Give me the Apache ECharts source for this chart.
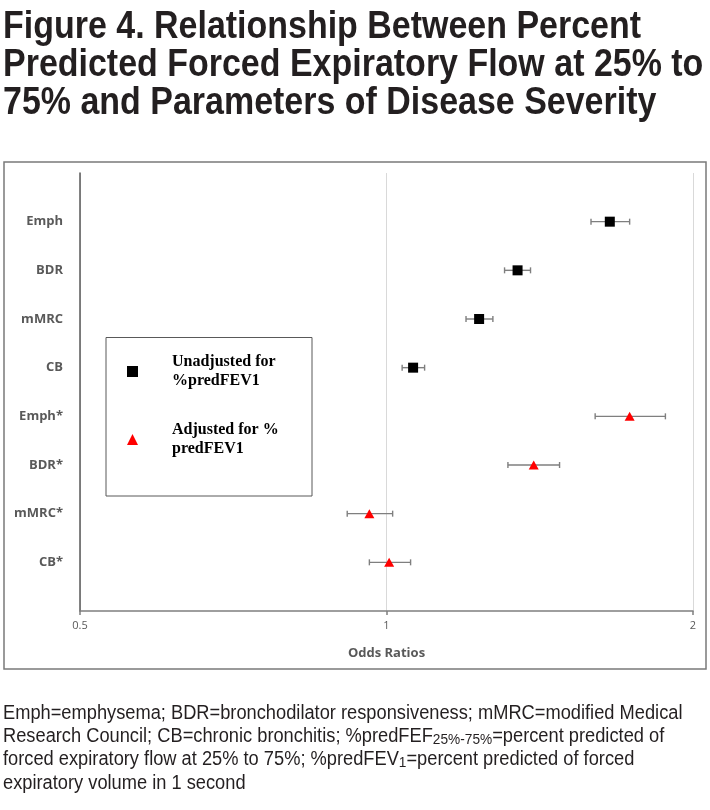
<!DOCTYPE html>
<html>
<head>
<meta charset="utf-8">
<script src="https://cdn.jsdelivr.net/npm/echarts@6/dist/echarts.min.js"></script>
<style>
html,body{margin:0;padding:0;background:#fff;}
#chart{width:710px;height:810px;}
</style>
</head>
<body>
<div id="chart"></div>
<script>
// ---- data ----
var categories = ['Emph', 'BDR', 'mMRC', 'CB', 'Emph*', 'BDR*', 'mMRC*', 'CB*'];
var unadjCats = ['Emph', 'BDR', 'mMRC', 'CB'];
var unadjOR = [1.657, 1.345, 1.233, 1.062];
var unadjLo = [1.588, 1.306, 1.197, 1.036];
var unadjHi = [1.733, 1.385, 1.272, 1.090];
var adjCats = ['Emph*', 'BDR*', 'mMRC*', 'CB*'];
var adjOR = [1.733, 1.395, 0.962, 1.006];
var adjLo = [1.603, 1.316, 0.915, 0.962];
var adjHi = [1.879, 1.479, 1.014, 1.056];
var xTicks = [0.5, 1, 2];

var titleText = 'Figure 4. Relationship Between Percent\nPredicted Forced Expiratory Flow at 25% to\n75% and Parameters of Disease Severity';
var captionText = 'Emph=emphysema; BDR=bronchodilator responsiveness; mMRC=modified Medical\n' +
  'Research Council; CB=chronic bronchitis; %predFEF{sub|25%-75%}=percent predicted of\n' +
  'forced expiratory flow at 25% to 75%; %predFEV{sub|1}=percent predicted of forced\n' +
  'expiratory volume in 1 second';
var legendNames = ['Unadjusted for\n%predFEV1', 'Adjusted for %\npredFEV1'];

// y position of each category (top = highest)
function yPos(name) { return categories.length - categories.indexOf(name); }

function pts(cats, vals) {
  return cats.map(function (c, i) { return [vals[i], yPos(c)]; });
}
function bars(cats, lo, hi) {
  return cats.map(function (c, i) { return [lo[i], hi[i], yPos(c)]; });
}

function errRender(params, api) {
  var y = api.value(2);
  var a = api.coord([api.value(0), y]);
  var b = api.coord([api.value(1), y]);
  var h = 3;
  var st = { stroke: '#7f7f7f', lineWidth: 1.4 };
  return {
    type: 'group',
    children: [
      { type: 'line', shape: { x1: a[0], y1: a[1], x2: b[0], y2: b[1] }, style: st },
      { type: 'line', shape: { x1: a[0], y1: a[1] - h, x2: a[0], y2: a[1] + h }, style: st },
      { type: 'line', shape: { x1: b[0], y1: b[1] - h, x2: b[0], y2: b[1] + h }, style: st }
    ]
  };
}

var chart = echarts.init(document.getElementById('chart'), null, { renderer: 'canvas' });
chart.setOption({
  backgroundColor: '#ffffff',
  animation: false,
  grid: { left: 80, right: 17, top: 173, bottom: 199, containLabel: false },
  xAxis: {
    type: 'log',
    logBase: 2,
    min: xTicks[0],
    max: xTicks[xTicks.length - 1],
    name: 'Odds Ratios',
    nameLocation: 'middle',
    nameGap: 36,
    nameTextStyle: { fontFamily: 'Open Sans', fontWeight: 'bold', fontSize: 13, color: '#595959' },
    axisLine: { show: true, lineStyle: { color: '#7f7f7f', width: 1.5 } },
    axisTick: { show: true, length: 4, lineStyle: { color: '#7f7f7f', width: 1.5 } },
    axisLabel: { fontFamily: 'Open Sans', fontSize: 11, color: '#595959', margin: 9,
      formatter: function (v) { return String(+v.toFixed(3)); } },
    splitLine: { show: true, lineStyle: { color: '#d9d9d9', width: 1 } }
  },
  yAxis: {
    type: 'value',
    min: 0,
    max: categories.length + 1,
    interval: 1,
    axisLine: { show: true, lineStyle: { color: '#595959', width: 1.5 } },
    axisTick: { show: false },
    splitLine: { show: false },
    axisLabel: {
      fontFamily: 'Open Sans', fontWeight: 'bold', fontSize: 13, color: '#595959', margin: 17,
      formatter: function (v) {
        var i = categories.length - v;
        return (i >= 0 && i < categories.length) ? categories[i] : '';
      }
    }
  },
  legend: {
    orient: 'vertical',
    left: 127,
    top: 352,
    padding: 0,
    itemWidth: 11,
    itemHeight: 11,
    itemGap: 29,
    selectedMode: false,
    data: legendNames,
    textStyle: { fontFamily: 'Liberation Serif', fontWeight: 'bold', fontSize: 16, color: '#000000',
      lineHeight: 19.5, padding: [0, 0, 0, 29] }
  },
  series: [
    { type: 'custom', name: 'errU', renderItem: errRender, data: bars(unadjCats, unadjLo, unadjHi),
      encode: { x: [0, 1], y: 2 }, z: 2, silent: true },
    { type: 'custom', name: 'errA', renderItem: errRender, data: bars(adjCats, adjLo, adjHi),
      encode: { x: [0, 1], y: 2 }, z: 2, silent: true },
    { type: 'scatter', name: legendNames[0], symbol: 'rect', symbolSize: [10, 10],
      itemStyle: { color: '#000000', opacity: 1 }, data: pts(unadjCats, unadjOR), z: 3 },
    { type: 'scatter', name: legendNames[1], symbol: 'triangle', symbolSize: [10, 9],
      itemStyle: { color: '#ff0000', opacity: 1 }, data: pts(adjCats, adjOR), z: 3 }
  ],
  graphic: [
    { type: 'rect', shape: { x: 4, y: 162, width: 702, height: 507 },
      style: { fill: null, stroke: '#7a7a7a', lineWidth: 1.5 }, z: -1 },
    { type: 'rect', shape: { x: 106, y: 337.5, width: 206, height: 158.5 },
      style: { fill: null, stroke: '#595959', lineWidth: 1 }, z: 5 },
    { type: 'text', x: 3, y: 9, scaleX: 0.894, scaleY: 1, z: 10,
      style: { text: titleText, font: 'bold 38px "Liberation Sans", Arial, sans-serif', fill: '#231f20',
        lineHeight: 38, verticalAlign: 'top', align: 'left' } },
    { type: 'text', x: 3, y: 701.5, scaleX: 0.913, scaleY: 1, z: 10,
      style: { text: captionText, font: '20px "Liberation Sans", Arial, sans-serif', fill: '#231f20',
        lineHeight: 23.3, verticalAlign: 'top', align: 'left',
        rich: { sub: { fontSize: 15, fontFamily: 'Liberation Sans', fill: '#231f20', lineHeight: 16, padding: [7, 0, 0, 0] } } } }
  ]
});
</script>
</body>
</html>
